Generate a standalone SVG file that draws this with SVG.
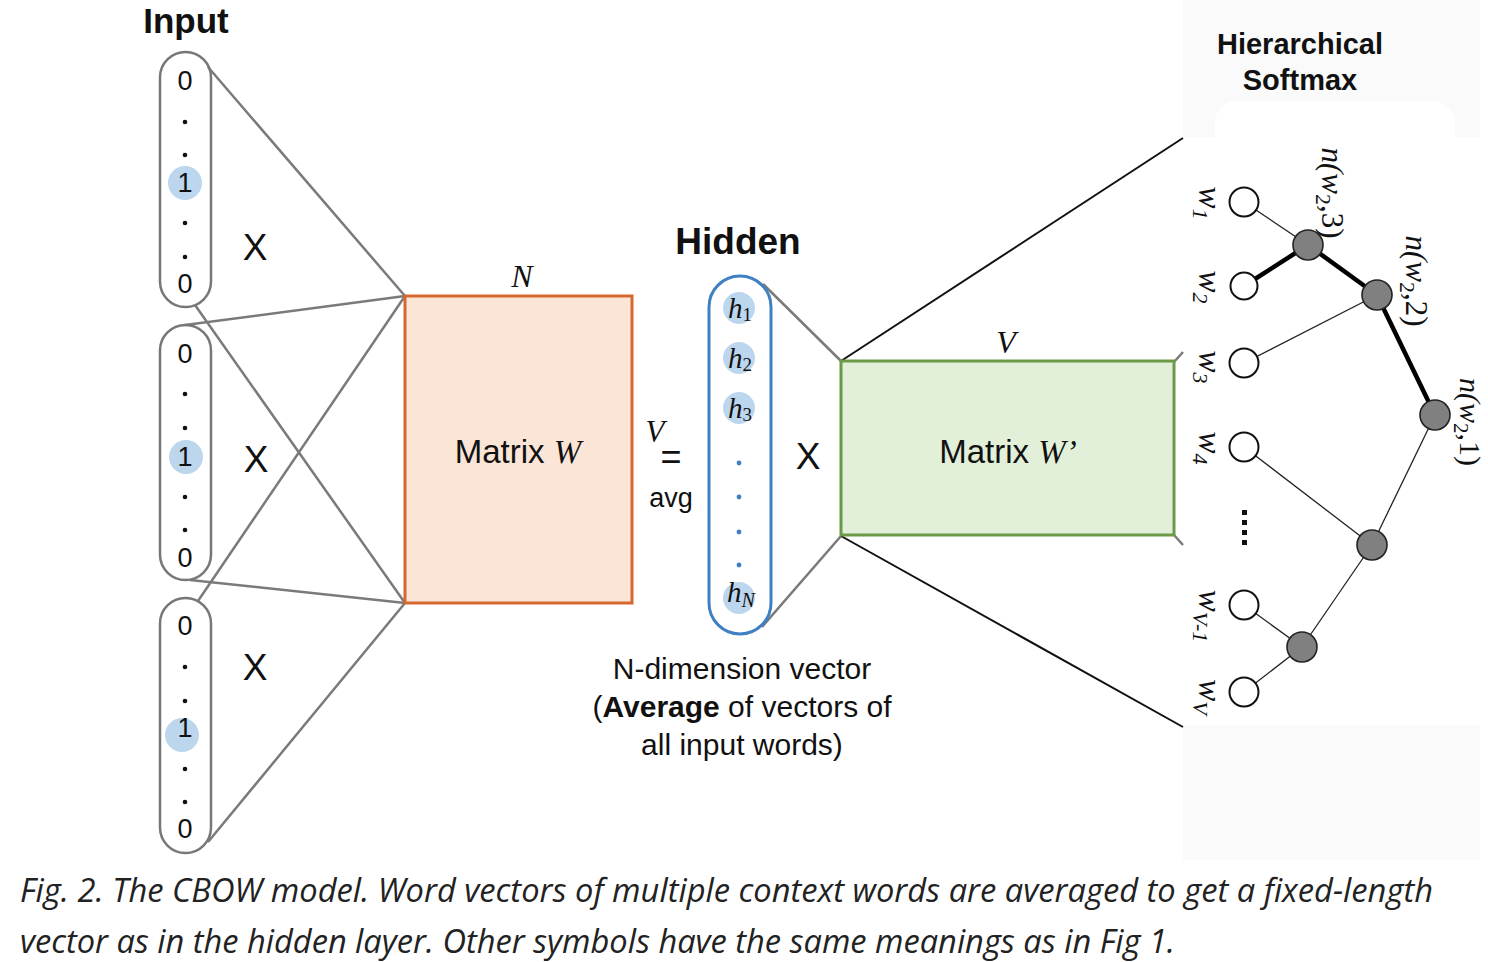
<svg xmlns="http://www.w3.org/2000/svg" width="1488" height="962" viewBox="0 0 1488 962">
<style>
.sans{font-family:"Liberation Sans",Arial,sans-serif;fill:#111}
.bold{font-family:"Liberation Sans",Arial,sans-serif;font-weight:bold;fill:#111}
.math{font-family:"Liberation Serif","Times New Roman",serif;font-style:italic;fill:#111}
.up{font-style:normal}
.pill{fill:none;stroke:#777;stroke-width:2.5}
.conn{stroke:#7a7a7a;stroke-width:2.5;fill:none}
.blk{stroke:#111;stroke-width:2;fill:none}
.dot{fill:#111}
.hl{fill:#bcd6ee}
.thin{stroke:#222;stroke-width:1.3;fill:none}
.thick{stroke:#000;stroke-width:4.5;fill:none}
.leaf{fill:#fff;stroke:#111;stroke-width:2}
.inner{fill:#808080;stroke:#222;stroke-width:1.6}
.cap{font-family:"Open Sans","Noto Sans",sans-serif;font-style:italic;fill:#222;font-size:32px}
</style>
<rect width="1488" height="962" fill="#fff"/>
<!-- tree background panel -->
<rect x="1183" y="0" width="297" height="860" fill="#fafafa"/>
<rect x="1183" y="137" width="297" height="588" fill="#fff"/>
<rect x="1215" y="101" width="240" height="60" rx="22" fill="#fff"/>

<g id="connectors">
<line class="conn" x1="208" y1="67" x2="405" y2="296"/>
<line class="conn" x1="195" y1="305" x2="405" y2="603"/>
<line class="conn" x1="185" y1="325" x2="405" y2="296"/>
<line class="conn" x1="190" y1="580" x2="405" y2="603"/>
<line class="conn" x1="198" y1="601" x2="405" y2="296"/>
<line class="conn" x1="208" y1="842" x2="405" y2="603"/>
<line class="conn" x1="763" y1="284" x2="841" y2="361"/>
<line class="conn" x1="762" y1="627" x2="841" y2="536"/>
<line class="conn" x1="1174" y1="362" x2="1183" y2="352"/>
<line class="conn" x1="1174" y1="535" x2="1183" y2="545"/>
<line class="blk" x1="841" y1="361" x2="1183" y2="138"/>
<line class="blk" x1="841" y1="536" x2="1183" y2="727"/>
</g>

<g id="input-label"><text class="bold" x="186" y="33" font-size="35" text-anchor="middle">Input</text></g>

<g id="input1">
<rect class="pill" x="160" y="52" width="51" height="255" rx="25.5" fill="#fff"/>
<circle class="hl" cx="185" cy="183" r="17"/>
<text class="sans" x="185" y="90" font-size="27" text-anchor="middle">0</text>
<circle class="dot" cx="185" cy="122" r="2.3"/><circle class="dot" cx="185" cy="155" r="2.3"/>
<text class="sans" x="185" y="192" font-size="27" text-anchor="middle">1</text>
<circle class="dot" cx="185" cy="223" r="2.3"/><circle class="dot" cx="185" cy="257" r="2.3"/>
<text class="sans" x="185" y="293" font-size="27" text-anchor="middle">0</text>
</g>
<g id="input2">
<rect class="pill" x="160" y="325" width="51" height="255" rx="25.5"/>
<circle class="hl" cx="186" cy="457" r="17"/>
<text class="sans" x="185" y="363" font-size="27" text-anchor="middle">0</text>
<circle class="dot" cx="185" cy="394" r="2.3"/><circle class="dot" cx="185" cy="428" r="2.3"/>
<text class="sans" x="185" y="466" font-size="27" text-anchor="middle">1</text>
<circle class="dot" cx="185" cy="497" r="2.3"/><circle class="dot" cx="185" cy="530" r="2.3"/>
<text class="sans" x="185" y="567" font-size="27" text-anchor="middle">0</text>
</g>
<g id="input3">
<rect class="pill" x="160" y="598" width="51" height="255" rx="25.5"/>
<circle class="hl" cx="182" cy="735" r="17"/>
<text class="sans" x="185" y="635" font-size="27" text-anchor="middle">0</text>
<circle class="dot" cx="185" cy="667" r="2.3"/><circle class="dot" cx="185" cy="701" r="2.3"/>
<text class="sans" x="185" y="737" font-size="27" text-anchor="middle">1</text>
<circle class="dot" cx="185" cy="769" r="2.3"/><circle class="dot" cx="185" cy="802" r="2.3"/>
<text class="sans" x="185" y="838" font-size="27" text-anchor="middle">0</text>
</g>
<g id="x-labels">
<text class="sans" x="255" y="260" font-size="37" text-anchor="middle">X</text>
<text class="sans" x="256" y="472" font-size="37" text-anchor="middle">X</text>
<text class="sans" x="255" y="680" font-size="37" text-anchor="middle">X</text>
<text class="sans" x="808" y="469" font-size="37" text-anchor="middle">X</text>
</g>

<g id="matrixW">
<rect x="405" y="296" width="227" height="307" fill="#fbe5d6" stroke="#d5682f" stroke-width="3"/>
<text class="math" x="522" y="287" font-size="32" text-anchor="middle">N</text>
<text x="518" y="463" font-size="33" text-anchor="middle"><tspan class="sans">Matrix </tspan><tspan class="math">W</tspan></text>
</g>

<g id="avg">
<text class="math" x="655" y="442" font-size="31" text-anchor="middle">V</text>
<text class="sans" x="671" y="469" font-size="36" text-anchor="middle">=</text>
<text class="sans" x="671" y="507" font-size="27" text-anchor="middle">avg</text>
</g>

<g id="hidden">
<text class="bold" x="738" y="254" font-size="37" text-anchor="middle">Hidden</text>
<rect x="709" y="276" width="62" height="358" rx="31" fill="none" stroke="#3f7fc4" stroke-width="3"/>
<circle class="hl" cx="739" cy="308" r="16"/>
<circle class="hl" cx="739" cy="358" r="16"/>
<circle class="hl" cx="739" cy="408" r="16"/>
<circle class="hl" cx="739" cy="598" r="16"/>
<text class="math" x="740" y="318" font-size="29" text-anchor="middle">h<tspan class="up" font-size="19" dy="3">1</tspan></text>
<text class="math" x="740" y="368" font-size="29" text-anchor="middle">h<tspan class="up" font-size="19" dy="3">2</tspan></text>
<text class="math" x="740" y="418" font-size="29" text-anchor="middle">h<tspan class="up" font-size="19" dy="3">3</tspan></text>
<text class="math" x="741" y="602" font-size="29" text-anchor="middle">h<tspan font-size="20" dy="5">N</tspan></text>
<circle cx="739" cy="463" r="2.4" fill="#3f7fc4"/><circle cx="739" cy="497" r="2.4" fill="#3f7fc4"/>
<circle cx="739" cy="532" r="2.4" fill="#3f7fc4"/><circle cx="739" cy="565" r="2.4" fill="#3f7fc4"/>
</g>

<g id="hidden-caption">
<text class="sans" x="742" y="679" font-size="30" text-anchor="middle">N-dimension vector</text>
<text class="sans" x="742" y="717" font-size="30" text-anchor="middle">(<tspan font-weight="bold">Average</tspan> of vectors of</text>
<text class="sans" x="742" y="755" font-size="30" text-anchor="middle">all input words)</text>
</g>

<g id="matrixWp">
<rect x="841" y="361" width="333" height="174" fill="#e2efd9" stroke="#6a9a48" stroke-width="3"/>
<text class="math" x="1006" y="353" font-size="32" text-anchor="middle">V</text>
<text x="1008" y="463" font-size="33" text-anchor="middle"><tspan class="sans">Matrix </tspan><tspan class="math">W’</tspan></text>
</g>

<g id="softmax-title">
<text class="bold" x="1300" y="54" font-size="29" text-anchor="middle">Hierarchical</text>
<text class="bold" x="1300" y="90" font-size="29" text-anchor="middle">Softmax</text>
</g>

<g id="tree-edges">
<line class="thin" x1="1244" y1="202" x2="1308" y2="245"/>
<line class="thin" x1="1244" y1="363" x2="1377" y2="295"/>
<line class="thin" x1="1435" y1="415" x2="1372" y2="545"/>
<line class="thin" x1="1244" y1="447" x2="1372" y2="545"/>
<line class="thin" x1="1372" y1="545" x2="1302" y2="647"/>
<line class="thin" x1="1244" y1="605" x2="1302" y2="647"/>
<line class="thin" x1="1244" y1="692" x2="1302" y2="647"/>
<line class="thick" x1="1244" y1="286" x2="1308" y2="245"/>
<line class="thick" x1="1308" y1="245" x2="1377" y2="295"/>
<line class="thick" x1="1377" y1="295" x2="1435" y2="415"/>
</g>
<g id="tree-w1"><circle class="leaf" cx="1244" cy="202" r="14.5"/></g>
<g id="tree-w2"><circle class="leaf" cx="1244" cy="286" r="13.5" stroke-width="4.5"/></g>
<g id="tree-w3"><circle class="leaf" cx="1244" cy="363" r="14.5"/></g>
<g id="tree-w4"><circle class="leaf" cx="1244" cy="447" r="14.5"/></g>
<g id="tree-wV1"><circle class="leaf" cx="1244" cy="605" r="14.5"/></g>
<g id="tree-wV"><circle class="leaf" cx="1244" cy="692" r="14.5"/></g>
<g id="tree-n3"><circle class="inner" cx="1308" cy="245" r="15"/></g>
<g id="tree-n2"><circle class="inner" cx="1377" cy="295" r="15"/></g>
<g id="tree-n1"><circle class="inner" cx="1435" cy="415" r="15"/></g>
<g id="tree-m1"><circle class="inner" cx="1372" cy="545" r="15"/></g>
<g id="tree-m2"><circle class="inner" cx="1302" cy="647" r="15"/></g>
<g id="tree-ellipsis">
<rect x="1242" y="510" width="5" height="5" fill="#111"/>
<rect x="1242" y="520" width="5" height="5" fill="#111"/>
<rect x="1242" y="530" width="5" height="5" fill="#111"/>
<rect x="1242" y="540" width="5" height="5" fill="#111"/>
</g>
<g id="tree-labels">
<text class="math" transform="translate(1199,203) rotate(90)" font-size="33" text-anchor="middle">w<tspan font-size="22" dy="6">1</tspan></text>
<text class="math" transform="translate(1199,287) rotate(90)" font-size="33" text-anchor="middle">w<tspan font-size="22" dy="6">2</tspan></text>
<text class="math" transform="translate(1199,367) rotate(90)" font-size="33" text-anchor="middle">w<tspan font-size="22" dy="6">3</tspan></text>
<text class="math" transform="translate(1199,448) rotate(90)" font-size="33" text-anchor="middle">w<tspan font-size="22" dy="6">4</tspan></text>
<text class="math" transform="translate(1199,616) rotate(90)" font-size="33" text-anchor="middle">w<tspan font-size="22" dy="6">V-1</tspan></text>
<text class="math" transform="translate(1199,697) rotate(90)" font-size="33" text-anchor="middle">w<tspan font-size="22" dy="6">V</tspan></text>
<text class="math" transform="translate(1322,193) rotate(90)" font-size="31" text-anchor="middle">n(w<tspan class="up" font-size="22" dy="6">2</tspan><tspan class="up" dy="-6">,3)</tspan></text>
<text class="math" transform="translate(1406,281) rotate(90)" font-size="31" text-anchor="middle">n(w<tspan class="up" font-size="22" dy="6">2</tspan><tspan class="up" dy="-6">,2)</tspan></text>
<text class="math" transform="translate(1460,422) rotate(90)" font-size="30" text-anchor="middle">n(w<tspan class="up" font-size="21" dy="6">2</tspan><tspan class="up" dy="-6">,1)</tspan></text>
</g>

<g id="caption">
<text class="cap" x="20" y="902" textLength="1413" lengthAdjust="spacingAndGlyphs">Fig. 2. The CBOW model. Word vectors of multiple context words are averaged to get a fixed-length</text>
<text class="cap" x="20" y="953" textLength="1155" lengthAdjust="spacingAndGlyphs">vector as in the hidden layer. Other symbols have the same meanings as in Fig 1.</text>
</g>
</svg>
